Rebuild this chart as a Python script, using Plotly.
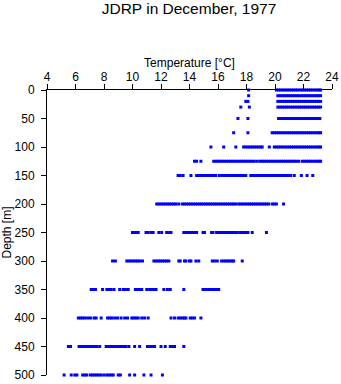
import plotly.graph_objects as go

# Depth levels [m]
depths = [0, 10, 20, 30, 50, 75, 100, 125, 150, 200, 250, 300, 350, 400, 450, 500]

# Temperatures [°C] observed at each depth
t_000 = [18.15, 20.1, 20.25, 20.4, 20.55, 20.7, 20.85, 21.0, 21.15, 21.3, 21.45, 21.6, 21.75,
         21.9, 22.05, 22.2, 22.35, 22.5, 22.65, 22.8, 22.95, 23.1, 23.2]
t_010 = [18.15, 20.2, 20.35, 20.5, 20.65, 20.8, 20.95, 21.1, 21.25, 21.4, 21.55, 21.7, 21.85,
         22.0, 22.15, 22.3, 22.45, 22.6, 22.75, 22.9, 23.05, 23.2]
t_020 = [17.95, 18.1, 20.2, 20.35, 20.5, 20.65, 20.8, 20.95, 21.1, 21.25, 21.4, 21.55, 21.7,
         21.85, 22.0, 22.15, 22.3, 22.45, 22.6, 22.75, 22.9, 23.05, 23.2]
t_030 = [17.6, 18.2, 20.2, 20.35, 20.5, 20.65, 20.8, 20.95, 21.1, 21.25, 21.4, 21.55, 21.7,
         21.85, 22.0, 22.15, 22.3, 22.45, 22.6, 22.75, 22.9, 23.05, 23.2]
t_050 = [17.4, 18.1, 20.25, 20.4, 20.55, 20.7, 20.85, 21.0, 21.15, 21.3, 21.45, 21.6, 21.75,
         21.9, 22.05, 22.2, 22.35, 22.5, 22.65, 22.8, 22.95, 23.1, 23.15]
t_075 = [17.1, 18.1, 19.8, 19.95, 20.1, 20.25, 20.4, 20.55, 20.7, 20.85, 21.0, 21.15, 21.3,
         21.45, 21.6, 21.75, 21.9, 22.05, 22.2, 22.35, 22.5, 22.65, 22.8, 22.95, 23.1, 23.2]
t_100 = [15.5, 16.4, 17.25, 17.8, 17.95, 18.1, 18.25, 18.4, 18.55, 18.7, 18.85, 19.0, 19.1,
         19.6, 19.95, 20.1, 20.25, 20.4, 20.55, 20.7, 20.85, 21.0, 21.15, 21.3, 21.45, 21.6,
         21.75, 21.9, 22.05, 22.2, 22.35, 22.5, 22.65, 22.8, 22.95, 23.1, 23.2]
t_125 = [14.35, 14.5, 14.8, 15.7, 15.85, 16.0, 16.15, 16.3, 16.45, 16.6, 16.75, 16.9, 17.05,
         17.2, 17.35, 17.5, 17.65, 17.8, 17.95, 18.1, 18.25, 18.4, 18.55, 18.75, 18.95, 19.1,
         19.25, 19.4, 19.55, 19.7, 19.85, 20.0, 20.15, 20.3, 20.45, 20.6, 20.75, 20.9, 21.05,
         21.2, 21.35, 21.5, 21.65, 21.9, 22.05, 22.2, 22.35, 22.5, 22.65, 22.8, 22.95, 23.1, 23.2]
t_150 = [13.2, 13.35, 13.55, 14.1, 14.5, 14.65, 14.8, 14.95, 15.1, 15.25, 15.4, 15.55, 15.7,
         15.85, 16.1, 16.3, 16.45, 16.6, 16.75, 16.9, 17.05, 17.2, 17.35, 17.5, 17.65, 17.8,
         17.95, 18.3, 18.45, 18.6, 18.75, 18.9, 19.05, 19.2, 19.35, 19.5, 19.65, 19.8, 19.95,
         20.1, 20.25, 20.4, 20.55, 20.7, 20.85, 21.0, 21.1, 21.35, 21.85, 22.25, 22.65]
t_200 = [11.7, 11.85, 12.0, 12.15, 12.3, 12.45, 12.6, 12.75, 12.9, 13.05, 13.25, 13.5, 13.65,
         13.8, 13.95, 14.1, 14.25, 14.4, 14.55, 14.7, 14.85, 15.0, 15.15, 15.3, 15.45, 15.6,
         15.75, 15.9, 16.05, 16.2, 16.35, 16.5, 16.65, 16.8, 16.95, 17.1, 17.25, 17.45, 17.6,
         17.75, 17.9, 18.05, 18.2, 18.35, 18.5, 18.65, 18.8, 18.95, 19.1, 19.25, 19.4, 19.55,
         19.8, 19.95, 20.1, 20.6]
t_250 = [10.0, 10.15, 10.3, 10.4, 10.95, 11.1, 11.3, 11.45, 11.85, 12.05, 12.4, 12.6, 12.7,
         13.6, 13.75, 13.9, 14.05, 14.2, 14.35, 14.5, 14.95, 15.05, 15.55, 15.65, 15.9, 16.05,
         16.2, 16.3, 16.45, 16.6, 16.75, 16.9, 17.05, 17.2, 17.35, 17.55, 17.7, 17.85, 18.0,
         18.1, 18.4, 19.4]
t_300 = [8.6, 8.8, 9.6, 9.75, 9.9, 10.05, 10.2, 10.35, 10.5, 10.7, 11.5, 11.65, 11.8, 11.95,
         12.1, 12.25, 12.4, 12.55, 13.25, 13.35, 13.65, 13.75, 14.0, 14.1, 14.45, 14.65, 15.6,
         15.75, 15.95, 16.25, 16.4, 16.55, 16.7, 16.85, 17.0, 17.1, 17.7]
t_350 = [7.1, 7.25, 7.4, 7.9, 8.2, 8.35, 8.5, 8.7, 9.1, 9.35, 9.5, 9.7, 10.2, 10.35, 10.5,
         10.65, 11.0, 11.2, 11.35, 11.5, 11.65, 12.2, 12.45, 12.65, 13.6, 14.95, 15.1, 15.25,
         15.4, 15.6, 15.75, 15.9, 16.05]
t_400 = [6.2, 6.35, 6.5, 6.65, 6.85, 7.05, 7.3, 7.45, 7.8, 8.25, 8.4, 8.55, 8.75, 8.95, 9.2,
         9.45, 9.65, 9.95, 10.1, 10.25, 10.4, 10.65, 10.85, 11.1, 12.7, 12.95, 13.2, 13.35,
         13.5, 13.65, 13.75, 14.05, 14.2, 14.35, 14.8]
t_450 = [5.5, 5.65, 6.25, 6.4, 6.55, 6.7, 6.85, 7.05, 7.2, 7.35, 7.5, 7.7, 8.15, 8.3, 8.45,
         8.6, 8.75, 8.95, 9.1, 9.25, 9.4, 9.55, 9.75, 10.15, 10.5, 11.05, 11.25, 11.4, 11.55,
         12.0, 12.3, 12.65, 12.8, 12.95, 13.6]
t_500 = [5.2, 5.7, 5.95, 6.1, 6.5, 6.65, 6.8, 7.05, 7.2, 7.35, 7.5, 7.65, 7.8, 8.0, 8.2, 8.35,
         8.5, 8.65, 9.0, 9.15, 9.8, 10.15, 10.8, 11.3, 12.1]

temps_by_depth = [t_000, t_010, t_020, t_030, t_050, t_075, t_100, t_125, t_150, t_200,
                  t_250, t_300, t_350, t_400, t_450, t_500]

x_ticks = [4, 6, 8, 10, 12, 14, 16, 18, 20, 22, 24]
y_ticks = [0, 50, 100, 150, 200, 250, 300, 350, 400, 450, 500]

xs, ys = [], []
for d, temps in zip(depths, temps_by_depth):
    for t in temps:
        xs.append(t)
        ys.append(d)

FONT = "Liberation Sans, Arial, Helvetica, sans-serif"

fig = go.Figure(go.Scatter(
    x=xs, y=ys, mode="markers",
    marker=dict(symbol="square", size=3, color="#0000ff", line=dict(width=0)),
    cliponaxis=False, showlegend=False, hoverinfo="x+y",
))

fig.update_layout(
    width=341, height=384,
    margin=dict(l=47, r=9, t=90, b=9, pad=0),
    paper_bgcolor="white", plot_bgcolor="white",
    font=dict(family=FONT, size=12, color="black"),
    title=dict(text="JDRP in December, 1977", x=189/341, xanchor="center",
               y=1 - 9/384, yanchor="middle", yref="container",
               font=dict(family=FONT, size=15.5, color="black")),
    xaxis=dict(
        side="top", range=[4, 24], tickvals=x_ticks, ticktext=[str(v) for v in x_ticks],
        showgrid=False, zeroline=False, showline=True, linecolor="black", linewidth=1,
        ticks="outside", ticklen=5, tickwidth=1, tickcolor="black",
        tickfont=dict(family=FONT, size=12), ticklabelstandoff=-2,
        title=dict(text="Temperature [°C]", standoff=0, font=dict(family=FONT, size=12)),
        automargin=False,
    ),
    yaxis=dict(
        range=[500, 0], tickvals=y_ticks, ticktext=[str(v) for v in y_ticks],
        showgrid=False, zeroline=False, showline=True, linecolor="black", linewidth=1,
        ticks="outside", ticklen=5, tickwidth=1, tickcolor="black",
        tickfont=dict(family=FONT, size=12), ticklabelstandoff=4,
        title=dict(text="Depth [m]", standoff=0, font=dict(family=FONT, size=12)),
        automargin=False,
    ),
)

fig.write_html("out.html")
